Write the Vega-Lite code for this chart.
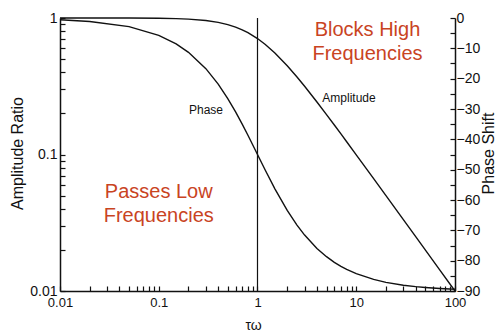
{
  "$schema": "https://vega.github.io/schema/vega-lite/v6.json",
  "width": 395,
  "height": 273,
  "autosize": {"type": "none"},
  "padding": {"left": 60, "top": 18, "right": 40, "bottom": 42},
  "background": "white",
  "config": {
    "view": {"stroke": null},
    "axis": {
      "labelFont": "Liberation Sans",
      "titleFont": "Liberation Sans",
      "labelColor": "#111",
      "titleColor": "#111",
      "domainColor": "#111",
      "tickColor": "#111",
      "grid": false,
      "titleFontWeight": "normal",
      "labelOverlap": false,
      "labelFlush": false,
      "domainWidth": 1.5,
      "tickWidth": 1.2
    },
    "text": {"font": "Liberation Sans"}
  },
  "datasets": {
    "curve": [
      {"tw": 0.01, "amp": 0.99995, "phase": -0.57},
      {"tw": 0.02, "amp": 0.9998, "phase": -1.15},
      {"tw": 0.05, "amp": 0.99875, "phase": -2.86},
      {"tw": 0.1, "amp": 0.99504, "phase": -5.71},
      {"tw": 0.15, "amp": 0.98893, "phase": -8.53},
      {"tw": 0.2, "amp": 0.98058, "phase": -11.31},
      {"tw": 0.3, "amp": 0.95783, "phase": -16.7},
      {"tw": 0.4, "amp": 0.92848, "phase": -21.8},
      {"tw": 0.5, "amp": 0.89443, "phase": -26.57},
      {"tw": 0.6, "amp": 0.85749, "phase": -30.96},
      {"tw": 0.7, "amp": 0.81923, "phase": -34.99},
      {"tw": 0.8, "amp": 0.78087, "phase": -38.66},
      {"tw": 1, "amp": 0.70711, "phase": -45},
      {"tw": 1.2, "amp": 0.64018, "phase": -50.19},
      {"tw": 1.5, "amp": 0.5547, "phase": -56.31},
      {"tw": 2, "amp": 0.44721, "phase": -63.43},
      {"tw": 2.5, "amp": 0.37139, "phase": -68.2},
      {"tw": 3, "amp": 0.31623, "phase": -71.57},
      {"tw": 4, "amp": 0.24254, "phase": -75.96},
      {"tw": 5, "amp": 0.19612, "phase": -78.69},
      {"tw": 6, "amp": 0.1644, "phase": -80.54},
      {"tw": 7, "amp": 0.14142, "phase": -81.87},
      {"tw": 8, "amp": 0.12403, "phase": -82.87},
      {"tw": 10, "amp": 0.0995, "phase": -84.29},
      {"tw": 15, "amp": 0.06652, "phase": -86.19},
      {"tw": 20, "amp": 0.04994, "phase": -87.14},
      {"tw": 30, "amp": 0.03331, "phase": -88.09},
      {"tw": 40, "amp": 0.02499, "phase": -88.57},
      {"tw": 50, "amp": 0.02, "phase": -88.85},
      {"tw": 70, "amp": 0.01428, "phase": -89.18},
      {"tw": 100, "amp": 0.01, "phase": -89.43}
    ],
    "notes": [
      {"tw": 13.0, "amp": 0.738, "label": "Blocks High\nFrequencies"},
      {"tw": 0.1, "amp": 0.048, "label": "Passes Low\nFrequencies"}
    ],
    "tags": [
      {"tw": 0.301, "amp": 0.198, "label": "Phase"},
      {"tw": 8.45, "amp": 0.2424, "label": "Amplitude"}
    ],
    "marker": [{"tw": 1}]
  },
  "layer": [
    {
      "layer": [
        {
          "data": {"name": "curve"},
          "mark": {"type": "line", "color": "#111", "strokeWidth": 1.4},
          "encoding": {
            "x": {
              "field": "tw",
              "type": "quantitative",
              "scale": {"type": "log", "domain": [0.01, 100]},
              "axis": {
                "title": "τω",
                "values": [0.01,0.02,0.03,0.04,0.05,0.06,0.07,0.08,0.09,0.1,0.2,0.3,0.4,0.5,0.6,0.7,0.8,0.9,1,2,3,4,5,6,7,8,9,10,20,30,40,50,60,70,80,90,100],
                "format": "~g",
                "labelExpr": "(datum.value == 0.01 || datum.value == 0.1 || datum.value == 1 || datum.value == 10 || datum.value == 100) ? datum.label : ''",
                "tickSize": -5,
                "labelPadding": 10,
                "labelFontSize": 13,
                "titleFontSize": 14,
                "titleX": 193,
                "titleY": 38,
                "titleBaseline": "alphabetic"
              }
            },
            "y": {
              "field": "amp",
              "type": "quantitative",
              "scale": {"type": "log", "domain": [0.01, 1]},
              "axis": {
                "title": "Amplitude Ratio",
                "values": [0.01,0.02,0.03,0.04,0.05,0.06,0.07,0.08,0.09,0.1,0.2,0.3,0.4,0.5,0.6,0.7,0.8,0.9,1],
                "format": "~g",
                "labelExpr": "(datum.value == 0.01 || datum.value == 0.1 || datum.value == 1) ? datum.label : ''",
                "tickSize": -5,
                "labelPadding": 8,
                "labelFontSize": 14,
                "titleFontSize": 16,
                "titleAngle": 270,
                "titleX": -38,
                "titleY": 135,
                "titleAlign": "center",
                "titleBaseline": "alphabetic"
              }
            }
          }
        },
        {
          "data": {"name": "marker"},
          "mark": {"type": "rule", "color": "#111", "strokeWidth": 1.2},
          "encoding": {"x": {"field": "tw", "type": "quantitative"}}
        },
        {
          "data": {"name": "notes"},
          "mark": {"type": "text", "color": "#C9441F", "fontSize": 20, "lineBreak": "\n", "lineHeight": 24, "align": "center", "baseline": "alphabetic"},
          "encoding": {
            "x": {"field": "tw", "type": "quantitative"},
            "y": {"field": "amp", "type": "quantitative"},
            "text": {"field": "label"}
          }
        },
        {
          "data": {"name": "tags"},
          "mark": {"type": "text", "color": "#111", "fontSize": 12, "align": "center", "baseline": "alphabetic"},
          "encoding": {
            "x": {"field": "tw", "type": "quantitative"},
            "y": {"field": "amp", "type": "quantitative"},
            "text": {"field": "label"}
          }
        }
      ]
    },
    {
      "data": {"name": "curve"},
      "mark": {"type": "line", "color": "#111", "strokeWidth": 1.4},
      "encoding": {
        "x": {"field": "tw", "type": "quantitative"},
        "y": {
          "field": "phase",
          "type": "quantitative",
          "scale": {"domain": [-90, 0], "nice": false, "zero": false},
          "axis": {
            "orient": "right",
            "title": "Phase Shift",
            "values": [-90,-85,-80,-75,-70,-65,-60,-55,-50,-45,-40,-35,-30,-25,-20,-15,-10,-5,0],
            "labelExpr": "datum.value % 10 == 0 ? datum.label : ''",
            "tickSize": -5,
            "labelPadding": 6,
            "labelFontSize": 14,
            "titleFontSize": 16,
            "titleAngle": 270,
            "titleX": 38,
            "titleY": 135,
            "titleAlign": "center",
            "titleBaseline": "alphabetic"
          }
        }
      }
    }
  ],
  "resolve": {"scale": {"y": "independent"}}
}
